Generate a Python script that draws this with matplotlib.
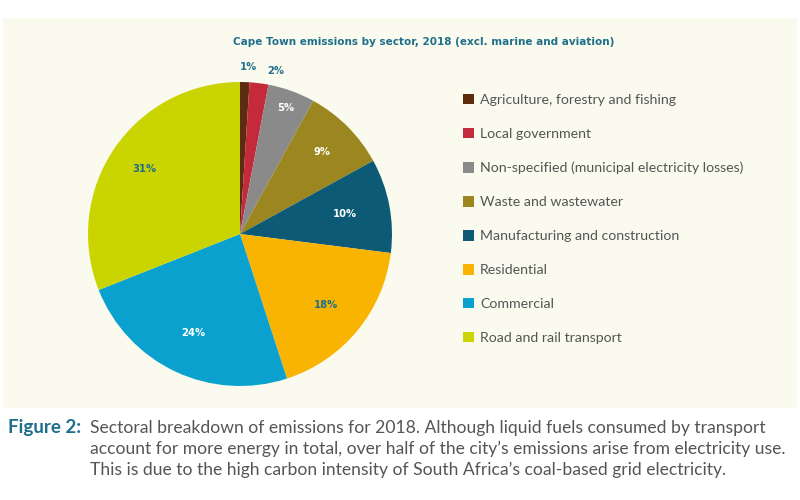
import numpy as np
import matplotlib
matplotlib.use('Agg')
from matplotlib import pyplot as plt
from matplotlib.patches import Rectangle

# data (clockwise from 12 o'clock)
SECTORS = [
  'Agriculture, forestry and fishing',
  'Local government',
  'Non-specified (municipal electricity losses)',
  'Waste and wastewater',
  'Manufacturing and construction',
  'Residential',
  'Commercial',
  'Road and rail transport',
]
SHARES = [1, 2, 5, 9, 10, 18, 24, 31]
COLORS = ['#5b2c0e', '#c42a3c', '#8a8a8a', '#9c861f', '#0c5a76', '#f8b400', '#0aa1cf', '#cad400']

TITLE = 'Cape Town emissions by sector, 2018 (excl. marine and aviation)'
CAPTION_LINES = [
  'Sectoral breakdown of emissions for 2018. Although liquid fuels consumed by transport',
  "account for more energy in total, over half of the city\u2019s emissions arise from electricity use.",
  "This is due to the high carbon intensity of South Africa\u2019s coal-based grid electricity.",
]

TEAL = '#1f6e8c'
CREAM = '#fafbee'

# placement of each % label: fraction of radius, and angle nudge in degrees
label_dist = [1.1, 1.1, 0.88, 0.76, 0.70, 0.73, 0.72, 0.76]
label_nudge = [-1, -5, 0, 0, 0, 0, 0, 0]
label_color = [TEAL, TEAL, 'white', 'white', 'white', TEAL, 'white', TEAL]

fig = plt.figure(figsize=(8, 5), dpi=100)
fig.patch.set_facecolor('white')
bg = fig.add_axes([3/800, 1-408/500, 794/800, 390/500], zorder=-5)
bg.set_facecolor(CREAM)
bg.set_xticks([])
bg.set_yticks([])
for s in bg.spines.values():
  s.set_visible(False)

ax = fig.add_axes([88/800, 1-386/500, 304/800, 304/500], zorder=1)
ax.set_facecolor('none')
wedges, _ = ax.pie(SHARES, colors=COLORS, startangle=90, counterclock=False,
                   wedgeprops=dict(linewidth=0))
ax.set_xlim(-1, 1)
ax.set_ylim(-1, 1)
ax.set_aspect('equal')
ax.axis('off')

for w, val, d, n, c in zip(wedges, SHARES, label_dist, label_nudge, label_color):
  mid = np.deg2rad((w.theta1 + w.theta2) / 2 + n)
  ax.text(d*np.cos(mid), d*np.sin(mid), f'{val}%', ha='center', va='center',
          fontsize=7.2, fontweight='bold', color=c, family='DejaVu Sans')

fig.text(0.53, 1-42/500, TITLE, ha='center', va='center', fontsize=7.5, fontweight='bold',
         color=TEAL, family='DejaVu Sans', zorder=2)

handles = [Rectangle((0, 0), 1, 1, facecolor=c) for c in COLORS]
fig.legend(handles, SECTORS, loc='upper left', bbox_to_anchor=(463/800, 1-94/500),
           frameon=False, labelcolor='#555555', handlelength=0.75, handleheight=0.75,
           handletextpad=0.45, labelspacing=1.54, borderaxespad=0, borderpad=0,
           prop={'family': 'Lato', 'size': 10.2})

cap_font = ['Lato', 'DejaVu Sans']
fig.text(8/800, 1-428/500, 'Figure 2:', ha='left', va='center', fontsize=13.5, fontweight='bold',
         color=TEAL, family=cap_font)
for i, line in enumerate(CAPTION_LINES):
  fig.text(90/800, 1-(428+21*i)/500, line, ha='left', va='center', fontsize=12.6,
           color='#555555', family=cap_font)

fig.savefig('out.png', dpi=100)
